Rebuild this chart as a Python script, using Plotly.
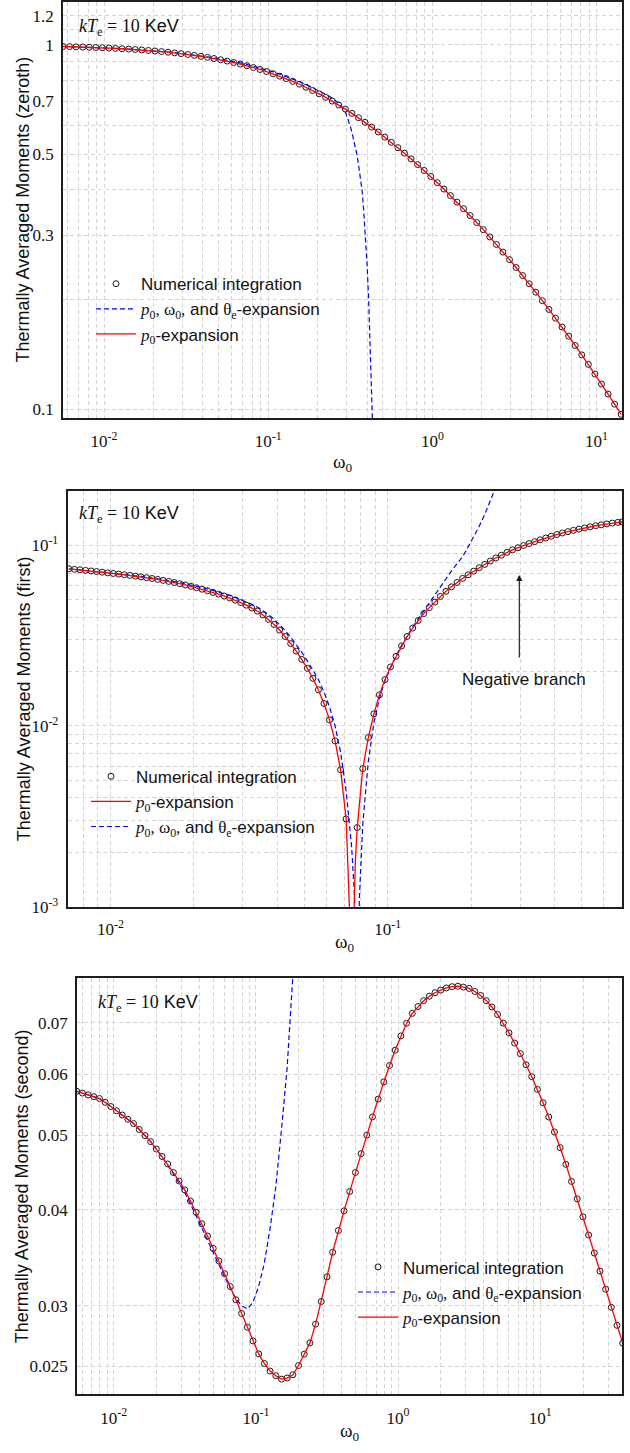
import plotly.graph_objects as go

# ---------------- Panel 1 : zeroth moment ----------------
omega_zeroth = [0.005623, 0.006166, 0.006761, 0.007413, 0.008128, 0.008913, 0.009772, 0.010715,
                0.011749, 0.012882, 0.014125, 0.015488, 0.016982, 0.018621, 0.020417, 0.022387,
                0.024547, 0.026915, 0.029512, 0.032359, 0.035481, 0.038905, 0.042658, 0.046774,
                0.051286, 0.056234, 0.061660, 0.067608, 0.074131, 0.081283, 0.089125, 0.097724,
                0.10715, 0.11749, 0.12882, 0.14125, 0.15488, 0.16982, 0.18621, 0.20417, 0.22387,
                0.24547, 0.26915, 0.29512, 0.32359, 0.35481, 0.38905, 0.42658, 0.46774, 0.51286,
                0.56234, 0.61660, 0.67608, 0.74131, 0.81283, 0.89125, 0.97724,
                1.0715, 1.1749, 1.2882, 1.4125, 1.5488, 1.6982, 1.8621, 2.0417, 2.2387, 2.4547,
                2.6915, 2.9512, 3.2359, 3.5481, 3.8905, 4.2658, 4.6774, 5.1286, 5.6234, 6.1660,
                6.7608, 7.4131, 8.1283, 8.9125, 9.7724, 10.715, 11.749, 12.882, 14.125]
zeroth_numerical = [0.9889, 0.9879, 0.9867, 0.9855, 0.9841, 0.9826, 0.9809, 0.9792, 0.9772, 0.9751,
                    0.9728, 0.9702, 0.9675, 0.9645, 0.9612, 0.9577, 0.9539, 0.9497, 0.9452, 0.9403,
                    0.9350, 0.9294, 0.9232, 0.9166, 0.9095, 0.9019, 0.8937, 0.8850, 0.8757, 0.8658,
                    0.8553, 0.8442,
                    0.8322, 0.8198, 0.8073, 0.7935, 0.7792, 0.7644, 0.7491, 0.7333, 0.7172, 0.7005,
                    0.6833, 0.6659, 0.6482, 0.6305, 0.6126, 0.5942, 0.5762, 0.5578, 0.5398, 0.5219,
                    0.5041, 0.4862, 0.4689, 0.4518, 0.4350,
                    0.4182, 0.4017, 0.3855, 0.3699, 0.3549, 0.3398, 0.3251, 0.3108, 0.2968, 0.2831,
                    0.2698, 0.2572, 0.2447, 0.2325, 0.2208, 0.2094, 0.1984, 0.1878, 0.1777, 0.1680,
                    0.1586, 0.1495, 0.1409, 0.1327, 0.1248, 0.1172, 0.1100, 0.1032, 0.0968]
zeroth_p0 = zeroth_numerical
omega_zeroth_full = omega_zeroth[:43] + [0.29512, 0.305, 0.316, 0.3236, 0.332, 0.340, 0.347, 0.355,
                                         0.3645, 0.373, 0.381, 0.390, 0.400, 0.409, 0.417, 0.425,
                                         0.433, 0.440]
zeroth_full = [0.9889, 0.9879, 0.9867, 0.9855, 0.9841, 0.9826, 0.9809, 0.9792, 0.9772, 0.9751,
               0.9728, 0.9702, 0.9675, 0.9645, 0.9612, 0.9577,
               0.9549, 0.9509, 0.9468, 0.9422, 0.9372, 0.9319, 0.9263, 0.9203, 0.9139, 0.9073,
               0.9001, 0.8921, 0.8832, 0.8738, 0.8639, 0.8535,
               0.8422, 0.8305, 0.8186, 0.8054, 0.7917, 0.7782, 0.7633, 0.7480, 0.7315, 0.7131,
               0.6915,
               0.655, 0.630, 0.598, 0.575, 0.548, 0.523, 0.500, 0.468, 0.435, 0.398, 0.355, 0.305,
               0.250, 0.200, 0.160, 0.128, 0.095, 0.070]

# ---------------- Panel 2 : first moment ----------------
omega_first = [0.007079, 0.007413, 0.007762, 0.008128, 0.008511, 0.008913, 0.009333, 0.009772,
               0.010233, 0.010715, 0.011220, 0.011749, 0.012303, 0.012882, 0.013490, 0.014125,
               0.014791, 0.015488, 0.016218, 0.016982, 0.017783, 0.018621, 0.019498, 0.020417,
               0.021380, 0.022387, 0.023442, 0.024547, 0.025704, 0.026915, 0.028184, 0.029512,
               0.030903, 0.032359, 0.033884, 0.035481, 0.037154, 0.038905, 0.040738, 0.042658,
               0.044668, 0.046774, 0.048978, 0.051286, 0.053703, 0.056234, 0.058884, 0.061660,
               0.064565, 0.067608, 0.070795, 0.074131,
               0.077625, 0.081283, 0.085114, 0.089125, 0.093325, 0.097724, 0.10233, 0.10715,
               0.11220, 0.11749, 0.12303, 0.12882, 0.13490, 0.14125, 0.14791, 0.15488, 0.16218,
               0.16982, 0.17783, 0.18621, 0.19498, 0.20417, 0.21380, 0.22387, 0.23442, 0.24547,
               0.25704, 0.26915, 0.28184, 0.29512, 0.30903, 0.32359, 0.33884, 0.35481, 0.37154,
               0.38905, 0.40738, 0.42658, 0.44668, 0.46774, 0.48978, 0.51286, 0.53703, 0.56234,
               0.58884, 0.61660, 0.64565, 0.67608, 0.70]
first_numerical = [0.0740, 0.07353, 0.07306, 0.07256, 0.07203, 0.07148, 0.0709, 0.0703, 0.06974,
                   0.0692, 0.06864, 0.06805, 0.06743, 0.06678, 0.0661, 0.0654, 0.06465, 0.06387,
                   0.06305, 0.06216, 0.06123, 0.06026, 0.05924, 0.05817, 0.05709, 0.05599, 0.05484,
                   0.05363, 0.05237, 0.05105, 0.04964, 0.04814, 0.04657, 0.04492, 0.0432, 0.04115,
                   0.03886, 0.03645, 0.03393, 0.03127, 0.02854, 0.02594, 0.02334, 0.02083, 0.01834,
                   0.01583, 0.01331, 0.0108, 0.00827, 0.00572, 0.00306, 0.00006,
                   0.00274, 0.00581, 0.00863, 0.01167, 0.01487, 0.01804, 0.0212, 0.02428, 0.02772,
                   0.03127, 0.03479, 0.03832, 0.04186, 0.04513, 0.04845, 0.05208, 0.05557, 0.05882,
                   0.06222, 0.06549, 0.06858, 0.07183, 0.07508, 0.07833, 0.08173, 0.08498, 0.08805,
                   0.09126, 0.09421, 0.09682, 0.09955, 0.10214, 0.10456, 0.10709, 0.10959, 0.11201,
                   0.11455, 0.11685, 0.11879, 0.12082, 0.12276, 0.12455, 0.12642, 0.12812, 0.12958,
                   0.1311, 0.13249, 0.13366, 0.1345]
# extra samples of the p0-expansion close to the sign change
omega_first_p0_dip = [0.0728, 0.0734, 0.0739, 0.0745, 0.0750, 0.0755, 0.0765]
first_p0_dip = [0.0012, 0.00068, 0.00026, 0.00024, 0.00064, 0.00104, 0.00184]

omega_first_full = omega_first[:79]
first_full = [0.0740, 0.07353, 0.07306, 0.07256, 0.07203, 0.07148, 0.0709, 0.0703, 0.06974, 0.0692,
              0.06885, 0.06832, 0.06777, 0.06718, 0.06656, 0.06592, 0.06523, 0.06451, 0.06368,
              0.06291, 0.06209, 0.06122, 0.06025, 0.05928, 0.05829, 0.05728, 0.05621, 0.05513,
              0.05394, 0.05273, 0.05143, 0.05002, 0.04853, 0.04703, 0.04545, 0.0435, 0.04127,
              0.03893, 0.03644, 0.03377, 0.03099, 0.0283, 0.02558, 0.02291, 0.0205, 0.01807,
              0.01542, 0.01275, 0.01004, 0.00716, 0.00437, 0.00213,
              0.00003, 0.00288, 0.00635, 0.01039, 0.0142, 0.0178, 0.0210, 0.0245, 0.0279, 0.0315,
              0.0352, 0.0391, 0.0433, 0.0483, 0.0538, 0.0596, 0.06565, 0.07209, 0.07901, 0.08625,
              0.09783, 0.1105, 0.1272, 0.1481, 0.1755, 0.2077, 0.25]
omega_first_full_dip = [0.0760, 0.0768, 0.0773, 0.0779, 0.0784, 0.0790]
first_full_dip = [0.0011, 0.0005, 0.0002, 0.00025, 0.00065, 0.0011]

# ---------------- Panel 3 : second moment ----------------
omega_second = [0.005495, 0.006026, 0.006607, 0.007244, 0.007943, 0.008710, 0.009550, 0.010471,
                0.011482, 0.012589, 0.013804, 0.015136, 0.016596, 0.018197, 0.019953, 0.021878,
                0.023988, 0.026303, 0.028840, 0.031623, 0.034674, 0.038019, 0.041687, 0.045709,
                0.050119, 0.054954, 0.060256, 0.066069, 0.072444, 0.079433, 0.087096, 0.095499,
                0.10471, 0.11482, 0.12589, 0.13804, 0.15136, 0.16596, 0.18197, 0.19953, 0.21878,
                0.23988, 0.26303, 0.28840, 0.31623, 0.34674, 0.38019, 0.41687, 0.45709, 0.50119,
                0.54954, 0.60256, 0.66069, 0.72444, 0.79433, 0.87096, 0.95499, 1.0471, 1.1482,
                1.2589, 1.3804, 1.5136, 1.6596, 1.8197, 1.9953, 2.1878, 2.3988, 2.6303, 2.8840,
                3.1623, 3.4674, 3.8019, 4.1687, 4.5709, 5.0119, 5.4954, 6.0256, 6.6069, 7.2444,
                7.9433, 8.7096, 9.5499, 10.471, 11.482, 12.589, 13.804, 15.136, 16.596, 18.197,
                19.953, 21.878, 23.988, 26.303, 28.840, 31.623, 34.674, 38.019]
second_numerical = [0.05703, 0.05672, 0.05641, 0.05610, 0.05579, 0.05516, 0.05447, 0.05378,
                    0.05311, 0.05243, 0.05176, 0.05085, 0.04993, 0.04903, 0.04796, 0.04690,
                    0.04586, 0.04470, 0.04357, 0.04243, 0.04104, 0.03968, 0.03834, 0.03695,
                    0.03561, 0.03430, 0.03301, 0.03176, 0.03053, 0.02930, 0.02812, 0.02699,
                    0.02596, 0.02522, 0.02466, 0.02432, 0.02407, 0.02415, 0.02439,
                    0.02507, 0.02594, 0.02683, 0.02838, 0.03037, 0.03270, 0.03520, 0.03757,
                    0.03985, 0.04222, 0.04470, 0.04730, 0.05000, 0.05280, 0.05570, 0.05865,
                    0.06160, 0.06450,
                    0.06730, 0.06990, 0.07200, 0.07350, 0.07480, 0.07580, 0.07660, 0.07720,
                    0.07770, 0.07800, 0.07810, 0.07790, 0.07760,
                    0.07689, 0.07598, 0.07480, 0.07340, 0.07176, 0.06993, 0.06792, 0.06588,
                    0.06383, 0.06173, 0.05957, 0.05735, 0.05508, 0.05279, 0.05047, 0.04815,
                    0.04581, 0.04352, 0.04130, 0.03914, 0.03707, 0.03512, 0.03327, 0.03151,
                    0.02985, 0.02828, 0.02681]
second_p0 = second_numerical
omega_second_full = omega_second[:41]
second_full = [0.05703, 0.05672, 0.05641, 0.05610, 0.05579, 0.05516, 0.05447, 0.05378, 0.05311,
               0.05243, 0.05176, 0.05085, 0.04993, 0.04903, 0.04796, 0.04690,
               0.0457, 0.0445, 0.0433, 0.0421, 0.0407, 0.0393, 0.0379, 0.0365, 0.0352, 0.0339,
               0.0327, 0.0316, 0.0306, 0.0300, 0.0297, 0.0303, 0.0318, 0.0341, 0.0378, 0.0428,
               0.0508, 0.0612, 0.0806, 0.105, 0.135]

# ---------------- tick labels and grid positions ----------------
x_decade_labels = {0.01: "10<sup>-2</sup>", 0.1: "10<sup>-1</sup>", 1.0: "10<sup>0</sup>",
                   10.0: "10<sup>1</sup>"}
y1_labels = {0.1: "0.1", 0.3: "0.3", 0.5: "0.5", 0.7: "0.7", 1.0: "1", 1.2: "1.2"}
y1_grid = [0.1, 0.2, 0.3, 0.4, 0.5, 0.6, 0.7, 0.8, 0.9, 1.0, 1.1, 1.2]
y2_labels = {0.001: "10<sup>-3</sup>", 0.01: "10<sup>-2</sup>", 0.1: "10<sup>-1</sup>"}
y3_labels = {0.025: "0.025", 0.03: "0.03", 0.04: "0.04", 0.05: "0.05", 0.06: "0.06", 0.07: "0.07"}

SERIF = "Liberation Serif"
SANS = "Liberation Sans"
W, H = 630, 1453


def log_grid(lo, hi):
    vals = []
    for e in range(-4, 3):
        for m in range(1, 10):
            v = round(m * 10.0 ** e, 10)
            if lo * 0.999 <= v <= hi * 1.001:
                vals.append(v)
    return vals


def labels_for(vals, table):
    out = []
    for v in vals:
        txt = ""
        for k, t in table.items():
            if abs(v - k) / k < 1e-6:
                txt = t
        out.append(txt)
    return out


def axis(domain, rng, tickvals, table, standoff):
    return dict(type="log", domain=domain, range=rng, tickmode="array", tickvals=tickvals,
                ticktext=labels_for(tickvals, table), showline=True, linecolor="#1e1e1e",
                linewidth=1.6, mirror=True, ticks="", showgrid=True, gridcolor="#d4d4d4",
                gridwidth=1, griddash="4px,3px", zeroline=False, ticklabelstandoff=standoff,
                tickfont=dict(family=SERIF, size=17, color="#111"))


def px_x(p):
    return p / W


def px_y(p):
    return 1 - p / H


marker_style = dict(symbol="circle-open", size=6, color="#1a1a1a", line=dict(width=1))
red_line = dict(color="#ff0000", width=1.3)
blue_line = dict(color="#0000ff", width=1.2, dash="5px,3px")

lab_full = ("<span style='font-family:Liberation Serif'><i>p</i><sub>0</sub>, "
            "ω<sub>0</sub>,</span> and <span style='font-family:Liberation Serif'>"
            "θ<sub>e</sub></span>-expansion")
lab_p0 = "<span style='font-family:Liberation Serif'><i>p</i><sub>0</sub></span>-expansion"

fig = go.Figure()

# panel 1
fig.add_trace(go.Scatter(x=omega_zeroth, y=zeroth_numerical, mode="markers", marker=marker_style,
                         name="Numerical integration", xaxis="x", yaxis="y", legend="legend",
                         legendrank=1))
fig.add_trace(go.Scatter(x=omega_zeroth_full, y=zeroth_full, mode="lines", line=blue_line,
                         name=lab_full, xaxis="x", yaxis="y", legend="legend", legendrank=2))
fig.add_trace(go.Scatter(x=omega_zeroth, y=zeroth_p0, mode="lines", line=red_line,
                         name=lab_p0, xaxis="x", yaxis="y", legend="legend", legendrank=3))

# panel 2
p2_red = sorted(zip(omega_first + omega_first_p0_dip, first_numerical + first_p0_dip))
p2_blue = sorted(zip(omega_first_full + omega_first_full_dip, first_full + first_full_dip))
fig.add_trace(go.Scatter(x=omega_first, y=first_numerical, mode="markers", marker=marker_style,
                         name="Numerical integration", xaxis="x2", yaxis="y2", legend="legend2",
                         legendrank=1))
fig.add_trace(go.Scatter(x=[a for a, b in p2_blue], y=[b for a, b in p2_blue], mode="lines",
                         line=blue_line, name=lab_full, xaxis="x2", yaxis="y2",
                         legend="legend2", legendrank=3))
fig.add_trace(go.Scatter(x=[a for a, b in p2_red], y=[b for a, b in p2_red], mode="lines",
                         line=red_line, name=lab_p0, xaxis="x2", yaxis="y2",
                         legend="legend2", legendrank=2))

# panel 3
fig.add_trace(go.Scatter(x=omega_second, y=second_numerical, mode="markers", marker=marker_style,
                         name="Numerical integration", xaxis="x3", yaxis="y3", legend="legend3",
                         legendrank=1))
fig.add_trace(go.Scatter(x=omega_second_full, y=second_full, mode="lines", line=blue_line,
                         name=lab_full, xaxis="x3", yaxis="y3", legend="legend3", legendrank=2))
fig.add_trace(go.Scatter(x=omega_second, y=second_p0, mode="lines", line=red_line,
                         name=lab_p0, xaxis="x3", yaxis="y3", legend="legend3", legendrank=3))

gx1 = log_grid(0.006, 10)
gx2 = log_grid(0.007, 0.7)
gx3 = log_grid(0.006, 30)
gy2 = log_grid(0.001, 0.2)
gy3 = list(y3_labels.keys())

legend_common = dict(xanchor="left", yanchor="top", bgcolor="rgba(0,0,0,0)", borderwidth=0,
                     font=dict(family=SANS, size=17, color="#111"), itemwidth=40,
                     traceorder="normal", tracegroupgap=0)

fig.update_layout(
    width=W, height=H, margin=dict(l=0, r=0, t=0, b=0),
    paper_bgcolor="white", plot_bgcolor="white",
    font=dict(family=SANS, size=17, color="#111"),
    xaxis=axis([px_x(63), px_x(622)], [-2.25, 1.155], gx1, x_decade_labels, 7),
    yaxis=axis([px_y(421), px_y(2)], [-1.0246, 0.1173], y1_grid, y1_labels, 4),
    xaxis2=axis([px_x(67.5), px_x(622)], [-2.155, -0.155], gx2, x_decade_labels, 6),
    yaxis2=axis([px_y(913), px_y(494)], [-3.0, -0.698], gy2, y2_labels, 4),
    xaxis3=axis([px_x(77), px_x(622)], [-2.258, 1.575], gx3, x_decade_labels, 7),
    yaxis3=axis([px_y(1404), px_y(985)], [-1.6383, -1.0969], gy3, y3_labels, 4),
    legend=dict(legend_common, x=px_x(91), y=px_y(268)),
    legend2=dict(legend_common, x=px_x(86), y=px_y(764)),
    legend3=dict(legend_common, x=px_x(353), y=px_y(1258)),
    showlegend=True,
)
fig.layout.yaxis.anchor = "x"
fig.layout.yaxis2.anchor = "x2"
fig.layout.yaxis3.anchor = "x3"
fig.layout.xaxis.anchor = "y"
fig.layout.xaxis2.anchor = "y2"
fig.layout.xaxis3.anchor = "y3"

ytitles = [("Thermally Averaged Moments (zeroth)", 23.5, (2 + 421) / 2),
           ("Thermally Averaged Moments (first)", 23.5, (494 + 913) / 2),
           ("Thermally Averaged Moments (second)", 22, (985 + 1404) / 2)]
for txt, x, y in ytitles:
    fig.add_annotation(text=txt, x=px_x(x), y=px_y(y), xref="paper", yref="paper",
                       showarrow=False, textangle=-90, xanchor="center", yanchor="middle",
                       font=dict(family=SANS, size=18, color="#111"))

for x, y in [(342.5, 466), (344.7, 950), (349.5, 1442)]:
    fig.add_annotation(text="ω<sub>0</sub>", x=px_x(x), y=px_y(y), xref="paper", yref="paper",
                       showarrow=False, xanchor="center", yanchor="middle",
                       font=dict(family=SERIF, size=19, color="#111"))

kt_text = ("<span style='font-family:Liberation Serif'><i>kT</i><sub>e</sub> = 10</span> KeV")
for x, y in [(77, 28), (77, 518), (95.5, 1010)]:
    fig.add_annotation(text=kt_text, x=px_x(x), y=px_y(y), xref="paper", yref="paper",
                       showarrow=False, xanchor="left", yanchor="middle",
                       font=dict(family=SANS, size=18, color="#111"))

# Negative branch annotation
fig.add_annotation(text="", x=px_x(519.3), y=px_y(579), xref="paper", yref="paper",
                   showarrow=True, ax=0, ay=84, arrowhead=2, arrowsize=1.1, arrowwidth=1.1,
                   arrowcolor="#111")
fig.add_annotation(text="Negative branch", x=px_x(524.3), y=px_y(684), xref="paper",
                   yref="paper", showarrow=False, xanchor="center", yanchor="middle",
                   font=dict(family=SANS, size=17, color="#111"))

fig.write_html("out.html")
